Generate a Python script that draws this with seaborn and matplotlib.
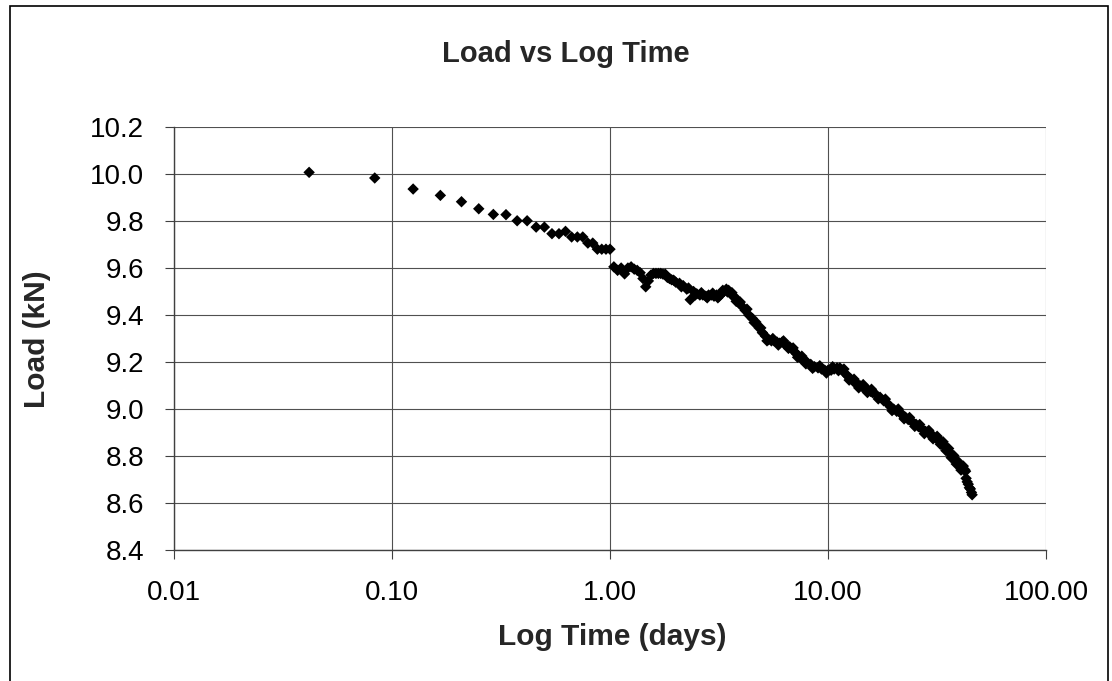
import numpy as np
import pandas as pd
import matplotlib
matplotlib.use('Agg')
import matplotlib.pyplot as plt
import seaborn as sns
from matplotlib.patches import Rectangle
from matplotlib.ticker import FixedLocator, NullLocator, FuncFormatter

# readings: elapsed time in hours, load in kN
hours_day1 = [1, 2, 3, 4, 5, 6, 7, 8, 9, 10, 11, 12,
              13, 14, 15, 16, 17, 18, 19, 20, 21, 22, 23, 24]
load_day1 = [10.007, 9.983, 9.936, 9.909, 9.882, 9.852, 9.828, 9.827, 9.801, 9.801, 9.774, 9.774,
             9.746, 9.746, 9.756, 9.732, 9.732, 9.732, 9.706, 9.706, 9.680, 9.680, 9.680, 9.680]

hours_day2 = [25, 26, 27, 28, 29, 30, 31, 32, 33, 34, 35, 36,
              37, 38, 39, 40, 41, 42, 43, 44, 45, 46, 47, 48]
load_day2 = [9.605, 9.590, 9.600, 9.575, 9.600, 9.605, 9.595, 9.590, 9.580, 9.555, 9.520, 9.545,
             9.570, 9.577, 9.577, 9.577, 9.577, 9.574, 9.574, 9.560, 9.555, 9.550, 9.548, 9.540]

hours_day3_4 = [50, 52, 54, 56, 58, 60, 62, 64, 66, 68, 70, 72,
                74, 76, 78, 80, 82, 84, 86, 88, 90, 92, 94, 96,
                51, 55, 59, 63, 67, 71, 75, 79, 83, 87, 91, 95]
load_day3_4 = [9.535, 9.525, 9.510, 9.465, 9.500, 9.490, 9.485, 9.485, 9.480, 9.485, 9.485, 9.480,
               9.485, 9.480, 9.490, 9.500, 9.510, 9.505, 9.490, 9.480, 9.475, 9.460, 9.450, 9.440,
               9.520, 9.515, 9.485, 9.495, 9.473, 9.493, 9.473, 9.505, 9.498, 9.495, 9.458, 9.455]

hours_day5_8 = [100, 104, 108, 112, 116, 120, 124, 128, 132, 136, 140, 144,
                148, 152, 156, 160, 164, 168, 172, 176, 180, 184, 188, 192,
                102, 110, 118, 126, 134, 142, 150, 158, 166, 174, 182, 190]
load_day5_8 = [9.420, 9.400, 9.385, 9.370, 9.345, 9.325, 9.310, 9.295, 9.290, 9.290, 9.285, 9.280,
               9.285, 9.275, 9.270, 9.265, 9.255, 9.245, 9.235, 9.225, 9.215, 9.210, 9.205, 9.200,
               9.425, 9.368, 9.345, 9.290, 9.300, 9.272, 9.290, 9.258, 9.260, 9.220, 9.225, 9.192]

hours_day9_16 = [200, 208, 216, 224, 232, 240, 248, 256, 264, 272, 280, 288,
                 296, 304, 312, 320, 328, 336, 344, 352, 360, 368, 376, 384,
                 204, 220, 236, 252, 268, 284, 300, 316, 332, 348, 364, 380]
load_day9_16 = [9.190, 9.180, 9.175, 9.170, 9.165, 9.165, 9.165, 9.170, 9.175, 9.175, 9.165, 9.150,
                9.140, 9.130, 9.120, 9.110, 9.105, 9.100, 9.095, 9.090, 9.085, 9.080, 9.075, 9.070,
                9.173, 9.184, 9.153, 9.180, 9.163, 9.170, 9.123, 9.127, 9.090, 9.104, 9.070, 9.084]

hours_day17_32 = [400, 416, 432, 448, 464, 480, 496, 512, 528, 544, 560, 576,
                  592, 608, 624, 640, 656, 672, 688, 704, 720, 736, 752, 768,
                  408, 440, 472, 504, 536, 568, 600, 632, 664, 696, 728, 760]
load_day17_32 = [9.060, 9.050, 9.035, 9.025, 9.010, 9.000, 8.990, 8.985, 8.975, 8.965, 8.955, 8.950,
                 8.940, 8.935, 8.925, 8.920, 8.910, 8.905, 8.900, 8.895, 8.890, 8.880, 8.875, 8.870,
                 9.043, 9.042, 8.993, 9.000, 8.958, 8.964, 8.926, 8.934, 8.895, 8.909, 8.873, 8.884]

hours_day33_46 = [780, 792, 804, 816, 828, 840, 852, 864, 876, 888, 900, 912, 924, 936,
                  948, 960, 972, 984, 996, 1008, 1020, 1032, 1044, 1056, 1068, 1080, 1092, 1100,
                  786, 810, 834, 858, 882, 906, 930, 954, 978, 1002, 1026]
load_day33_46 = [8.865, 8.860, 8.850, 8.845, 8.840, 8.830, 8.825, 8.815, 8.810, 8.800, 8.795, 8.785, 8.780, 8.775,
                 8.765, 8.760, 8.755, 8.750, 8.745, 8.745, 8.740, 8.705, 8.690, 8.680, 8.665, 8.660, 8.645, 8.635,
                 8.850, 8.860, 8.823, 8.832, 8.793, 8.802, 8.766, 8.774, 8.740, 8.757, 8.735]

x_ticks = [0.01, 0.1, 1, 10, 100]
y_ticks = [8.4, 8.6, 8.8, 9.0, 9.2, 9.4, 9.6, 9.8, 10.0, 10.2]

hours = (hours_day1 + hours_day2 + hours_day3_4 + hours_day5_8
         + hours_day9_16 + hours_day17_32 + hours_day33_46)
loads = (load_day1 + load_day2 + load_day3_4 + load_day5_8
         + load_day9_16 + load_day17_32 + load_day33_46)
df = pd.DataFrame({'days': np.array(hours) / 24.0, 'load': loads})

sns.set_theme(style='white')
plt.rcParams['font.family'] = ['Liberation Sans', 'DejaVu Sans']

W, H = 1112, 681
fig = plt.figure(figsize=(W / 100, H / 100), dpi=100)
fig.patch.set_facecolor('white')

# chart area border
fig.patches.append(Rectangle((10 / W, -0.05), (1108 - 10) / W, 1.05 - 6 / H,
                             transform=fig.transFigure, fill=False,
                             edgecolor='black', linewidth=1.2))

ax = fig.add_axes([174 / W, 1 - 550 / H, (1046 - 174) / W, (550 - 127) / H])
sns.scatterplot(data=df, x='days', y='load', ax=ax, marker='D', s=34,
                color='black', edgecolor='none', linewidth=0, legend=False)

ax.set_xscale('log')
ax.set_xlim(0.01, 100)
ax.set_ylim(8.4, 10.2)
ax.xaxis.set_major_locator(FixedLocator(x_ticks))
ax.xaxis.set_minor_locator(NullLocator())
ax.xaxis.set_major_formatter(FuncFormatter(lambda v, p: f'{v:.2f}'))
ax.yaxis.set_major_locator(FixedLocator(y_ticks))
ax.yaxis.set_major_formatter(FuncFormatter(lambda v, p: f'{v:.1f}'))

ax.grid(True, color='#505050', linewidth=0.8)
for side in ['top', 'right']:
    ax.spines[side].set_visible(False)
for side in ['left', 'bottom']:
    ax.spines[side].set_color('#404040')
    ax.spines[side].set_linewidth(1.0)
ax.tick_params(axis='both', which='major', direction='out', length=6.5, width=0.8,
               color='#404040', labelsize=20, pad=15, labelcolor='black')
ax.tick_params(axis='x', bottom=True)
ax.tick_params(axis='y', left=True)
ax.set_xlabel('')
ax.set_ylabel('')

fig.text(566 / W, 1 - 54 / H, 'Load vs Log Time', ha='center', va='center',
         fontsize=21, fontweight='bold')
fig.text(612 / W, 1 - 637 / H, 'Log Time (days)', ha='center', va='center',
         fontsize=21.5, fontweight='bold')
fig.text(37 / W, 1 - 339 / H, 'Load (kN)', ha='center', va='center',
         rotation=90, fontsize=21.5, fontweight='bold')

fig.savefig('out.png', dpi=100)
